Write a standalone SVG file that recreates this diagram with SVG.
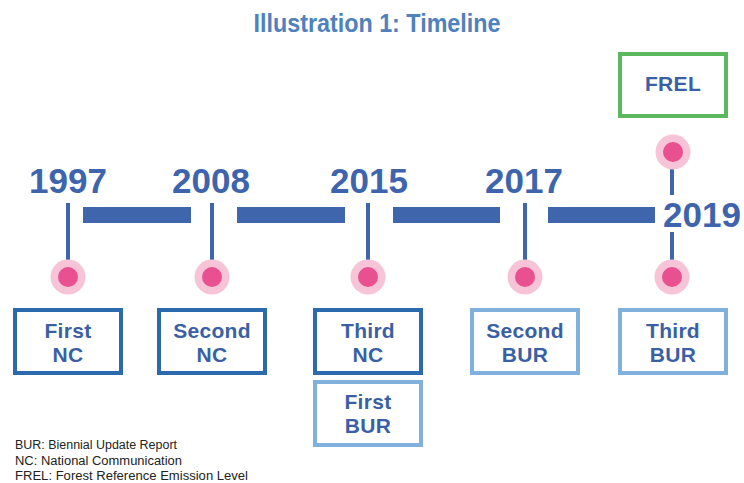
<svg xmlns="http://www.w3.org/2000/svg" width="744" height="483" viewBox="0 0 744 483">
<style>
.title{font-family:"Liberation Sans",Arial,sans-serif;font-weight:bold;font-size:25px;fill:#4f81bd;text-anchor:middle}
.year{font-family:"Liberation Sans",Arial,sans-serif;font-weight:bold;font-size:35px;fill:#3d64ad;text-anchor:middle}
.lbl{font-family:"Liberation Sans",Arial,sans-serif;font-weight:bold;font-size:21px;fill:#3a5fa5;text-anchor:middle;letter-spacing:0.3px}
.leg{font-family:"Liberation Sans",Arial,sans-serif;font-size:12.5px;fill:#222}
.nc{fill:#fff;stroke:#2a6aad;stroke-width:4}
.bur{fill:#fff;stroke:#7fb1dc;stroke-width:4}
.frel{fill:#fff;stroke:#5cb85c;stroke-width:4}
.stem{stroke:#3f66ad;stroke-width:4;fill:none}
.bar{fill:#3f66ad}
.halo{fill:#f6c4d6}
.dot{fill:#e8508f}
</style>
<text class="title" x="377" y="32" textLength="247" lengthAdjust="spacingAndGlyphs">Illustration 1: Timeline</text>

<g id="connectors">
<rect class="bar" x="83" y="207" width="108" height="16"/>
<rect class="bar" x="237" y="207" width="108" height="16"/>
<rect class="bar" x="393" y="207" width="107" height="16"/>
<rect class="bar" x="548" y="207" width="107" height="16"/>
<line class="stem" x1="68" y1="203" x2="68" y2="262"/>
<line class="stem" x1="212" y1="203" x2="212" y2="262"/>
<line class="stem" x1="368" y1="203" x2="368" y2="262"/>
<line class="stem" x1="525" y1="203" x2="525" y2="262"/>
<line class="stem" x1="672" y1="232" x2="672" y2="262"/>
<line class="stem" x1="672" y1="165" x2="672" y2="195"/>
</g>

<g id="y1997">
<text class="year" x="68" y="193">1997</text>
<circle class="halo" cx="68" cy="277" r="17.5"/><circle class="dot" cx="68" cy="277" r="10"/>
</g>
<g id="y2008">
<text class="year" x="211" y="193">2008</text>
<circle class="halo" cx="212" cy="277" r="17.5"/><circle class="dot" cx="212" cy="277" r="10"/>
</g>
<g id="y2015">
<text class="year" x="369" y="193">2015</text>
<circle class="halo" cx="368" cy="277" r="17.5"/><circle class="dot" cx="368" cy="277" r="10"/>
</g>
<g id="y2017">
<text class="year" x="524" y="193">2017</text>
<circle class="halo" cx="525" cy="277" r="17.5"/><circle class="dot" cx="525" cy="277" r="10"/>
</g>
<g id="y2019">
<text class="year" x="702" y="227">2019</text>
<circle class="halo" cx="672" cy="277" r="17.5"/><circle class="dot" cx="672" cy="277" r="10"/>
<circle class="halo" cx="673" cy="152" r="17.5"/><circle class="dot" cx="673" cy="152" r="10"/>
</g>

<g id="first-nc">
<rect class="nc" x="15" y="310" width="106" height="63"/>
<text class="lbl" x="68" y="338">First</text><text class="lbl" x="68" y="362">NC</text>
</g>
<g id="second-nc">
<rect class="nc" x="159" y="310" width="106" height="63"/>
<text class="lbl" x="212" y="338">Second</text><text class="lbl" x="212" y="362">NC</text>
</g>
<g id="third-nc">
<rect class="nc" x="315" y="310" width="106" height="63"/>
<text class="lbl" x="368" y="338">Third</text><text class="lbl" x="368" y="362">NC</text>
</g>
<g id="first-bur">
<rect class="bur" x="315" y="382" width="106" height="63"/>
<text class="lbl" x="368" y="409">First</text><text class="lbl" x="368" y="433">BUR</text>
</g>
<g id="second-bur">
<rect class="bur" x="472" y="310" width="106" height="63"/>
<text class="lbl" x="525" y="338">Second</text><text class="lbl" x="525" y="362">BUR</text>
</g>
<g id="third-bur">
<rect class="bur" x="620" y="310" width="106" height="63"/>
<text class="lbl" x="673" y="338">Third</text><text class="lbl" x="673" y="362">BUR</text>
</g>
<g id="frel">
<rect class="frel" x="620" y="54" width="106" height="62"/>
<text class="lbl" x="673" y="91">FREL</text>
</g>

<g id="legend">
<text class="leg" x="15" y="449" textLength="162" lengthAdjust="spacingAndGlyphs">BUR: Biennial Update Report</text>
<text class="leg" x="15" y="465" textLength="167" lengthAdjust="spacingAndGlyphs">NC: National Communication</text>
<text class="leg" x="15" y="480" textLength="233" lengthAdjust="spacingAndGlyphs">FREL: Forest Reference Emission Level</text>
</g>
</svg>
